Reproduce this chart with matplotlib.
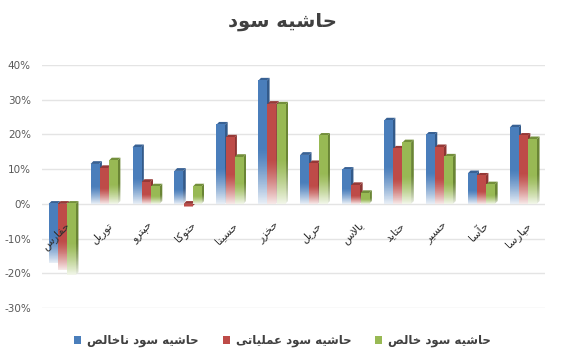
import numpy as np
import matplotlib
matplotlib.use("Agg")
import matplotlib.pyplot as plt
from matplotlib.patches import Polygon, Patch
from matplotlib.ticker import FuncFormatter

# ---------------- data ----------------
categories = ["حفارس", "توریل", "حپترو", "حتوکا", "حسینا", "حخزر",
              "حریل", "بالاس", "حتاید", "حسیر", "حآسا", "حپارسا"]
gross_margin = [-17.0, 11.5, 16.3, 9.5, 22.8, 35.5, 14.1, 9.8, 24.0, 19.9, 8.8, 22.0]
operating_margin = [-19.0, 10.3, 6.3, -0.8, 19.1, 28.8, 11.7, 5.4, 15.9, 16.3, 8.1, 19.6]
net_margin = [-20.5, 12.5, 5.0, 5.0, 13.5, 28.6, 19.6, 3.1, 17.7, 13.6, 5.6, 18.6]
series_names = ["حاشیه سود ناخالص", "حاشیه سود عملیاتی", "حاشیه سود خالص"]
title_text = "حاشیه سود"
y_ticks = [-30, -20, -10, 0, 10, 20, 30, 40]

# ---------------- simple Arabic/Persian shaping ----------------
FORMS = {
    'ا': ('\uFE8D', '\uFE8E', None, None),
    'آ': ('\uFE81', '\uFE82', None, None),
    'ب': ('\uFE8F', '\uFE90', '\uFE91', '\uFE92'),
    'پ': ('\uFB56', '\uFB57', '\uFB58', '\uFB59'),
    'ت': ('\uFE95', '\uFE96', '\uFE97', '\uFE98'),
    'ح': ('\uFEA1', '\uFEA2', '\uFEA3', '\uFEA4'),
    'خ': ('\uFEA5', '\uFEA6', '\uFEA7', '\uFEA8'),
    'د': ('\uFEA9', '\uFEAA', None, None),
    'ر': ('\uFEAD', '\uFEAE', None, None),
    'ز': ('\uFEAF', '\uFEB0', None, None),
    'س': ('\uFEB1', '\uFEB2', '\uFEB3', '\uFEB4'),
    'ش': ('\uFEB5', '\uFEB6', '\uFEB7', '\uFEB8'),
    'ص': ('\uFEB9', '\uFEBA', '\uFEBB', '\uFEBC'),
    'ع': ('\uFEC9', '\uFECA', '\uFECB', '\uFECC'),
    'ف': ('\uFED1', '\uFED2', '\uFED3', '\uFED4'),
    'ک': ('\uFB8E', '\uFB8F', '\uFB90', '\uFB91'),
    'ل': ('\uFEDD', '\uFEDE', '\uFEDF', '\uFEE0'),
    'م': ('\uFEE1', '\uFEE2', '\uFEE3', '\uFEE4'),
    'ن': ('\uFEE5', '\uFEE6', '\uFEE7', '\uFEE8'),
    'ه': ('\uFEE9', '\uFEEA', '\uFEEB', '\uFEEC'),
    'و': ('\uFEED', '\uFEEE', None, None),
    'ی': ('\uFBFC', '\uFBFD', '\uFBFE', '\uFBFF'),
}
LAM_ALEF = {'ا': ('\uFEFB', '\uFEFC'), 'آ': ('\uFEF5', '\uFEF6')}


def joins_next(c):
    return c in FORMS and FORMS[c][2] is not None


def shape(text):
    out = []
    i = 0
    n = len(text)
    while i < n:
        c = text[i]
        prev = text[i - 1] if i > 0 else None
        prev_j = prev is not None and joins_next(prev)
        if c == 'ل' and i + 1 < n and text[i + 1] in LAM_ALEF:
            iso, fin = LAM_ALEF[text[i + 1]]
            out.append(fin if prev_j else iso)
            i += 2
            continue
        if c not in FORMS:
            out.append(c)
            i += 1
            continue
        nxt = text[i + 1] if i + 1 < n else None
        next_j = joins_next(c) and nxt is not None and nxt in FORMS
        iso, fin, ini, med = FORMS[c]
        if prev_j and next_j:
            out.append(med)
        elif prev_j:
            out.append(fin)
        elif next_j:
            out.append(ini)
        else:
            out.append(iso)
        i += 1
    return ''.join(out)[::-1]


# ---------------- figure ----------------
plt.rcParams['font.family'] = ['DejaVu Sans']
fig = plt.figure(figsize=(5.65, 3.56), dpi=100)
fig.patch.set_facecolor('white')
ax = fig.add_axes([0.0743, 0.1348, 0.8903, 0.6826])
ax.set_facecolor('white')

XMIN, XMAX = -0.5, len(categories) - 0.5
YMIN, YMAX = -30, 40
ax.set_xlim(XMIN, XMAX)
ax.set_ylim(YMIN, YMAX)

for s in ax.spines.values():
    s.set_visible(False)

for yv in y_ticks:
    ax.axhline(yv, color='#e4e4e4', lw=1.0, zorder=0)

ax.set_yticks(y_ticks)
ax.yaxis.set_major_formatter(FuncFormatter(lambda v, p: f"{int(v)}%"))
ax.tick_params(axis='y', length=0, pad=8, labelsize=7.5, labelcolor='#595959')
ax.set_xticks([])

colors = [np.array([0x4A, 0x7E, 0xBB]) / 255,
          np.array([0xBE, 0x4B, 0x48]) / 255,
          np.array([0x98, 0xB9, 0x54]) / 255]
darks = [np.array([0x33, 0x5A, 0x8A]) / 255,
         np.array([0x8C, 0x35, 0x33]) / 255,
         np.array([0x6A, 0x85, 0x35]) / 255]

bw = 0.205
offsets = [-0.34, -0.12, 0.10]
dx = 0.065
dy = 0.8


def grad_img(ymin, ymax, col, N=200, cols=6):
    # solid at the top of the bar, fading to near white at the bottom
    ys = np.linspace(ymin, ymax, N)
    span = (ymax - ymin) if ymax != ymin else 1.0
    d = np.clip((ymax - ys) / span, 0, 1)
    w = np.clip((d - 0.55) / 0.45, 0, 1) ** 1.3 * 0.88
    rgb = col[None, :] * (1 - w[:, None]) + w[:, None]
    return np.repeat(rgb[:, None, :], cols, axis=1)


def bar3d(x0, v, col, dark, z):
    lo, hi = min(0, v), max(0, v)
    # side face
    side = Polygon([(x0 + bw, 0), (x0 + bw + dx, dy), (x0 + bw + dx, v + dy), (x0 + bw, v)],
                   closed=True, facecolor='none', edgecolor='none', transform=ax.transData)
    ax.add_patch(side)
    im = ax.imshow(grad_img(lo, hi + dy, dark),
                   extent=[x0 + bw, x0 + bw + dx, lo, hi + dy], origin='lower',
                   aspect='auto', interpolation='nearest', zorder=z)
    im.set_clip_path(side)
    # top face
    ty = hi
    ax.add_patch(Polygon([(x0, ty), (x0 + dx, ty + dy), (x0 + bw + dx, ty + dy), (x0 + bw, ty)],
                         closed=True, facecolor=dark * 0.8 + 0.2 * col, edgecolor='none', zorder=z))
    # front face
    ax.imshow(grad_img(lo, hi, col),
              extent=[x0, x0 + bw, lo, hi], origin='lower',
              aspect='auto', interpolation='nearest', zorder=z + 0.1)


series = [gross_margin, operating_margin, net_margin]
for si, vals in enumerate(series):
    for i, v in enumerate(vals):
        bar3d(i + offsets[si], v, colors[si], darks[si], 2 + si)

ax.set_xlim(XMIN, XMAX)
ax.set_ylim(YMIN, YMAX)

# category labels
for i, c in enumerate(categories):
    ax.annotate(shape(c), xy=(i, 0), xytext=(1, -11.5), textcoords='offset points',
                rotation=45, rotation_mode='anchor', ha='right', va='top',
                fontsize=8, color='#303030', zorder=10)

# title
fig.text(0.5, 0.94, shape(title_text), ha='center', va='center', fontsize=14,
         fontweight='bold', color='#404040')

# legend
handles = [Patch(facecolor=colors[k], edgecolor='none', label=shape(series_names[k]))
           for k in range(3)]
leg = fig.legend(handles=handles, loc='center', bbox_to_anchor=(0.5, 0.043), ncol=3,
                 frameon=False, prop={'size': 8.5, 'weight': 'bold'},
                 handlelength=0.6, handleheight=0.6, handletextpad=0.5, columnspacing=2.0)
for t in leg.get_texts():
    t.set_color('#404040')

fig.savefig('out.png', dpi=100, facecolor='white')
